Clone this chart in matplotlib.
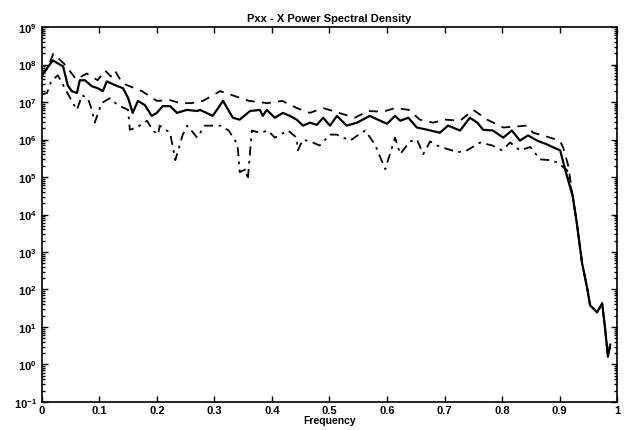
import numpy as np
import matplotlib
matplotlib.use("Agg")
import matplotlib.pyplot as plt
from matplotlib.ticker import LogLocator, FixedLocator, NullFormatter

plt.rcParams['font.family'] = ['Liberation Sans', 'DejaVu Sans']
plt.rcParams['font.weight'] = 'bold'
plt.rcParams['mathtext.fontset'] = 'custom'
plt.rcParams['mathtext.rm'] = 'Liberation Sans:bold'
plt.rcParams['mathtext.bf'] = 'Liberation Sans:bold'
plt.rcParams['mathtext.default'] = 'bf'

# shared steep roll-off above ~0.92 (log10 of power)
tail_f = [0.923, 0.930, 0.939, 0.948, 0.953, 0.965, 0.974, 0.979, 0.984, 0.988]
tail_e = [4.47, 3.76, 2.71, 2.03, 1.58, 1.39, 1.63, 0.97, 0.21, 0.53]

# Pxx estimate (solid), log10 values
mid_f = [0.0, 0.019, 0.037, 0.045, 0.052, 0.061, 0.066, 0.075, 0.087, 0.097,
         0.106, 0.113, 0.127, 0.141, 0.150, 0.158, 0.167, 0.179, 0.191, 0.200,
         0.210, 0.223, 0.235, 0.252, 0.270, 0.275, 0.297, 0.315, 0.332, 0.344,
         0.362, 0.379, 0.384, 0.391, 0.405, 0.419, 0.431, 0.443, 0.454, 0.466,
         0.478, 0.489, 0.501, 0.513, 0.530, 0.548, 0.570, 0.584, 0.600, 0.614,
         0.623, 0.637, 0.652, 0.670, 0.692, 0.706, 0.727, 0.744, 0.757, 0.767,
         0.784, 0.802, 0.817, 0.831, 0.845, 0.861, 0.878, 0.889, 0.901, 0.910]
mid_e = [7.71, 8.11, 7.95, 7.45, 7.29, 7.24, 7.58, 7.58, 7.42, 7.37,
         7.29, 7.55, 7.45, 7.37, 7.11, 6.71, 7.03, 6.92, 6.63, 6.71,
         6.89, 6.89, 6.71, 6.79, 6.76, 6.79, 6.63, 7.03, 6.58, 6.53,
         6.76, 6.79, 6.63, 6.79, 6.58, 6.71, 6.63, 6.53, 6.37, 6.45,
         6.39, 6.58, 6.37, 6.63, 6.37, 6.45, 6.63, 6.53, 6.42, 6.63,
         6.50, 6.58, 6.32, 6.26, 6.18, 6.37, 6.24, 6.58, 6.45, 6.26,
         6.24, 6.05, 6.24, 5.97, 6.11, 5.97, 5.87, 5.79, 5.71, 5.18]

# upper confidence bound (dashed)
hi_f = [0.0, 0.010, 0.020, 0.040, 0.060, 0.078, 0.097, 0.110, 0.120, 0.127,
        0.140, 0.174, 0.200, 0.223, 0.240, 0.260, 0.280, 0.310, 0.360, 0.392,
        0.418, 0.443, 0.466, 0.489, 0.506, 0.544, 0.567, 0.593, 0.614, 0.638,
        0.657, 0.680, 0.701, 0.727, 0.750, 0.774, 0.802, 0.843, 0.854, 0.871,
        0.900, 0.906, 0.915]
hi_e = [7.70, 7.90, 8.29, 8.00, 7.60, 7.76, 7.58, 7.84, 7.68, 7.84,
        7.50, 7.29, 7.03, 7.05, 6.97, 6.97, 7.03, 7.29, 7.03, 6.97,
        7.03, 6.84, 6.71, 6.84, 6.76, 6.58, 6.76, 6.74, 6.84, 6.79,
        6.53, 6.45, 6.53, 6.50, 6.79, 6.53, 6.32, 6.37, 6.18, 6.11,
        5.97, 5.80, 5.30]

# lower confidence bound (dash-dot)
lo_f = [0.0, 0.009, 0.017, 0.028, 0.052, 0.061, 0.070, 0.080, 0.087, 0.092,
        0.104, 0.118, 0.132, 0.150, 0.153, 0.165, 0.183, 0.193, 0.202, 0.205,
        0.223, 0.232, 0.245, 0.253, 0.270, 0.283, 0.310, 0.325, 0.340, 0.342,
        0.344, 0.355, 0.358, 0.365, 0.379, 0.393, 0.405, 0.428, 0.443, 0.445,
        0.454, 0.471, 0.483, 0.501, 0.513, 0.524, 0.536, 0.548, 0.562, 0.579,
        0.597, 0.614, 0.623, 0.640, 0.652, 0.663, 0.675, 0.687, 0.704, 0.723,
        0.739, 0.762, 0.783, 0.800, 0.814, 0.831, 0.849, 0.866, 0.883, 0.896,
        0.913]
lo_e = [7.20, 7.24, 7.58, 7.71, 7.03, 6.79, 7.18, 7.10, 6.79, 6.45,
        6.97, 7.10, 6.92, 6.79, 6.26, 6.32, 6.50, 6.24, 6.13, 6.37,
        6.18, 5.45, 6.13, 6.37, 6.05, 6.37, 6.37, 6.24, 5.87, 5.53,
        5.13, 5.21, 4.92, 6.24, 6.18, 6.24, 6.05, 6.24, 6.05, 5.71,
        6.00, 5.92, 5.84, 6.13, 6.13, 6.05, 5.97, 6.10, 6.24, 5.87,
        5.21, 6.05, 5.61, 5.95, 6.00, 5.61, 5.95, 5.84, 5.75, 5.66,
        5.71, 5.92, 5.84, 5.71, 5.92, 5.71, 5.80, 5.47, 5.45, 5.39,
        5.18]

xticks = [0, 0.1, 0.2, 0.3, 0.4, 0.5, 0.6, 0.7, 0.8, 0.9, 1]
xtick_labels = ['0', '0.1', '0.2', '0.3', '0.4', '0.5', '0.6', '0.7', '0.8', '0.9', '1']
ydecades = list(range(-1, 10))


def full(f, e):
    return np.array(f + tail_f), 10.0 ** np.array(e + tail_e)


fig = plt.figure(figsize=(6.24, 4.31), dpi=100)
ax = fig.add_axes([0.067, 0.065, 0.922, 0.87])

x, y = full(hi_f, hi_e)
ax.plot(x, y, color='black', lw=1.3, ls=(0, (5, 4)))
x, y = full(lo_f, lo_e)
ax.plot(x, y, color='black', lw=1.3, ls=(0, (5, 3, 1.5, 3)))
x, y = full(mid_f, mid_e)
ax.plot(x, y, color='black', lw=1.6)

ax.set_yscale('log')
ax.set_xlim(0, 1)
ax.set_ylim(1e-1, 1e9)
ax.yaxis.set_major_locator(FixedLocator([10.0 ** d for d in ydecades]))
ax.set_yticklabels([r'$10^{%d}$' % d for d in ydecades])
minors = [m * 10.0 ** d for d in ydecades[:-1] for m in range(2, 10)]
ax.yaxis.set_minor_locator(FixedLocator(minors))
ax.yaxis.set_minor_formatter(NullFormatter())
ax.xaxis.set_major_locator(FixedLocator(xticks))
ax.set_xticklabels(xtick_labels)

ax.tick_params(axis='both', which='both', direction='in', top=True, right=True,
               labelsize=8, width=1.0)
ax.tick_params(axis='x', pad=2)
ax.tick_params(which='major', length=4)
ax.tick_params(which='minor', length=2)
for s in ax.spines.values():
    s.set_linewidth(1.2)

ax.set_title('Pxx - X Power Spectral Density', fontsize=8, fontweight='bold', pad=4)
ax.set_xlabel('Frequency', fontsize=7.5, fontweight='bold', labelpad=0)

fig.savefig('out.png', dpi=100)
